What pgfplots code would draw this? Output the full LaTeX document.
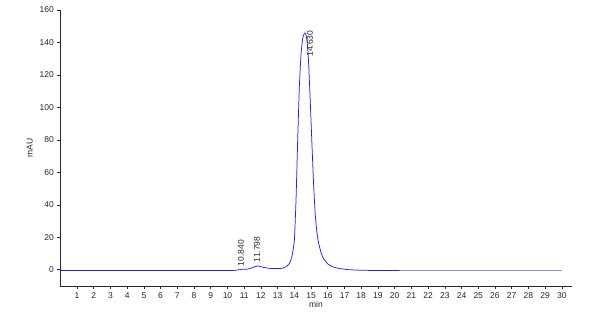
\documentclass[border=0pt]{standalone}
\usepackage{fontspec}
\setmainfont{Liberation Sans}
\usepackage{pgfplots}
\pgfplotsset{compat=1.18}
\definecolor{trace}{RGB}{30,30,255}
\definecolor{tracelight}{RGB}{140,140,255}
\definecolor{axisgray}{RGB}{40,40,40}
\begin{document}
\begin{tikzpicture}
\begin{axis}[
  scale only axis,
  width=511.4bp, height=276bp,
  xmin=0, xmax=30.59, ymin=-10, ymax=160,
  axis lines=left,
  axis line style={axisgray, line width=0.8pt, -},
  xtick={1,2,...,30},
  ytick={0,20,...,160},
  tick align=outside,
  major tick length=3bp,
  tick style={axisgray, line width=0.6pt},
  tick label style={font=\fontsize{8.5bp}{10bp}\selectfont, text=black!85},
  /pgf/number format/assume math mode=true,
  xlabel={min}, ylabel={mAU},
  label style={font=\fontsize{8.5bp}{10bp}\selectfont, text=black!85},
  xlabel style={yshift=4bp},
  clip=false,
]
\addplot[tracelight, line width=0.7pt] coordinates {(20.3,-0.5) (30,-0.5)};
\addplot[trace, line width=0.75pt, smooth, tension=0.3] coordinates {
(0,-0.5) (5,-0.5) (10,-0.45) (10.5,-0.3) (10.84,0.3) (11.15,0.3) (11.5,1.3) (11.8,2.4) (12.1,1.6) (12.5,0.9) (13.0,0.7) (13.3,1.0) (13.5,1.9) (13.7,3.8) (13.85,8) (14.0,18) (14.1,43) (14.2,80) (14.3,113) (14.4,133) (14.5,142.5) (14.57,145) (14.63,145.8) (14.69,145) (14.77,140) (14.85,128) (14.95,104) (15.05,78) (15.15,53) (15.25,34) (15.35,23) (15.45,16.5) (15.6,10.5) (15.75,6.8) (16.0,3.6) (16.3,1.8) (16.7,0.8) (17.2,0.1) (18,-0.3) (19,-0.45) (20.3,-0.5)
};
\node[rotate=90, anchor=west, font=\fontsize{8.5bp}{10bp}\selectfont, text=black!85, inner sep=1bp] at (axis cs:10.81,1.5) {10.840};
\node[rotate=90, anchor=west, font=\fontsize{8.5bp}{10bp}\selectfont, text=black!85, inner sep=1bp] at (axis cs:11.77,4) {11.798};
\node[rotate=90, anchor=east, font=\fontsize{8.5bp}{10bp}\selectfont, text=black!85, inner sep=1bp] at (axis cs:14.93,148) {14.630};
\end{axis}
\pgfresetboundingbox
\path ([xshift=-60.3bp,yshift=-28bp]current axis.south west) rectangle ([xshift=28.3bp,yshift=10bp]current axis.north east);
\end{tikzpicture}
\end{document}
